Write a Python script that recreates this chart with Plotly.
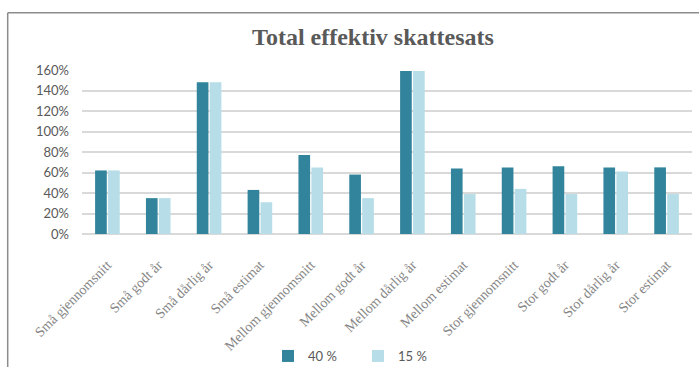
import plotly.graph_objects as go

categories = ["Små gjennomsnitt", "Små godt år", "Små dårlig år", "Små estimat",
              "Mellom gjennomsnitt", "Mellom godt år", "Mellom dårlig år", "Mellom estimat",
              "Stor gjennomsnitt", "Stor godt år", "Stor dårlig år", "Stor estimat"]
series_40 = [0.62, 0.35, 1.48, 0.43, 0.77, 0.58, 1.59, 0.64, 0.65, 0.66, 0.65, 0.65]
series_15 = [0.62, 0.35, 1.48, 0.31, 0.65, 0.35, 1.59, 0.39, 0.44, 0.39, 0.61, 0.39]
y_ticks = [0, 0.2, 0.4, 0.6, 0.8, 1.0, 1.2, 1.4, 1.6]
names = ["40 %", "15 %"]

W, H = 699, 367
L, R, T, B = 82, 7, 70, 133
pw, ph = W - L - R, H - T - B

def px(x):
    return (x - L) / pw

def py(y):
    return (H - B - y) / ph

fig = go.Figure()
fig.add_trace(go.Bar(x=categories, y=series_40, name=names[0],
                     marker=dict(color="#31849B", line=dict(width=0))))
fig.add_trace(go.Bar(x=categories, y=series_15, name=names[1],
                     marker=dict(color="#B7DEE8", line=dict(width=0))))

fig.update_layout(
    width=W, height=H,
    margin=dict(l=L, r=R, t=T, b=B, autoexpand=False),
    paper_bgcolor="white", plot_bgcolor="white",
    barmode="group", bargap=0.49, bargroupgap=0.1,
    title=dict(text="<b>Total effektiv skattesats</b>",
               font=dict(family="Liberation Serif", size=24, color="#595959"),
               x=373 / W, xanchor="center", xref="container",
               y=1 - 37 / H, yanchor="middle", yref="container"),
    showlegend=True,
    legend=dict(orientation="h", x=268 / W, xanchor="left", xref="container",
                y=1 - 356 / H, yanchor="middle", yref="container",
                font=dict(family="Lato", size=13, color="#595959"),
                entrywidth=45, entrywidthmode="pixels", bgcolor="rgba(0,0,0,0)"),
    xaxis=dict(tickangle=-45, showgrid=False, showline=False, ticks="",
               ticklabelstandoff=19, automargin=False,
               tickfont=dict(family="Liberation Serif", size=14, color="#858585")),
    yaxis=dict(range=[0, 1.6001], tickvals=y_ticks, tickformat=".0%",
               showgrid=True, gridcolor="#D9D9D9", gridwidth=1.5,
               zeroline=True, zerolinecolor="#D9D9D9", zerolinewidth=1.5,
               showline=False, ticks="", ticklabelstandoff=12, automargin=False,
               tickfont=dict(family="Lato", size=13, color="#595959")),
    shapes=[
        dict(type="line", xref="paper", yref="paper", x0=px(7.7), x1=px(7.7),
             y0=py(12.7), y1=py(H + 5), line=dict(color="#8C8C8C", width=1.5)),
        dict(type="line", xref="paper", yref="paper", x0=px(7.7), x1=px(W + 5),
             y0=py(12.7), y1=py(12.7), line=dict(color="#8C8C8C", width=1.5)),
    ],
)

fig.write_html("out.html")
